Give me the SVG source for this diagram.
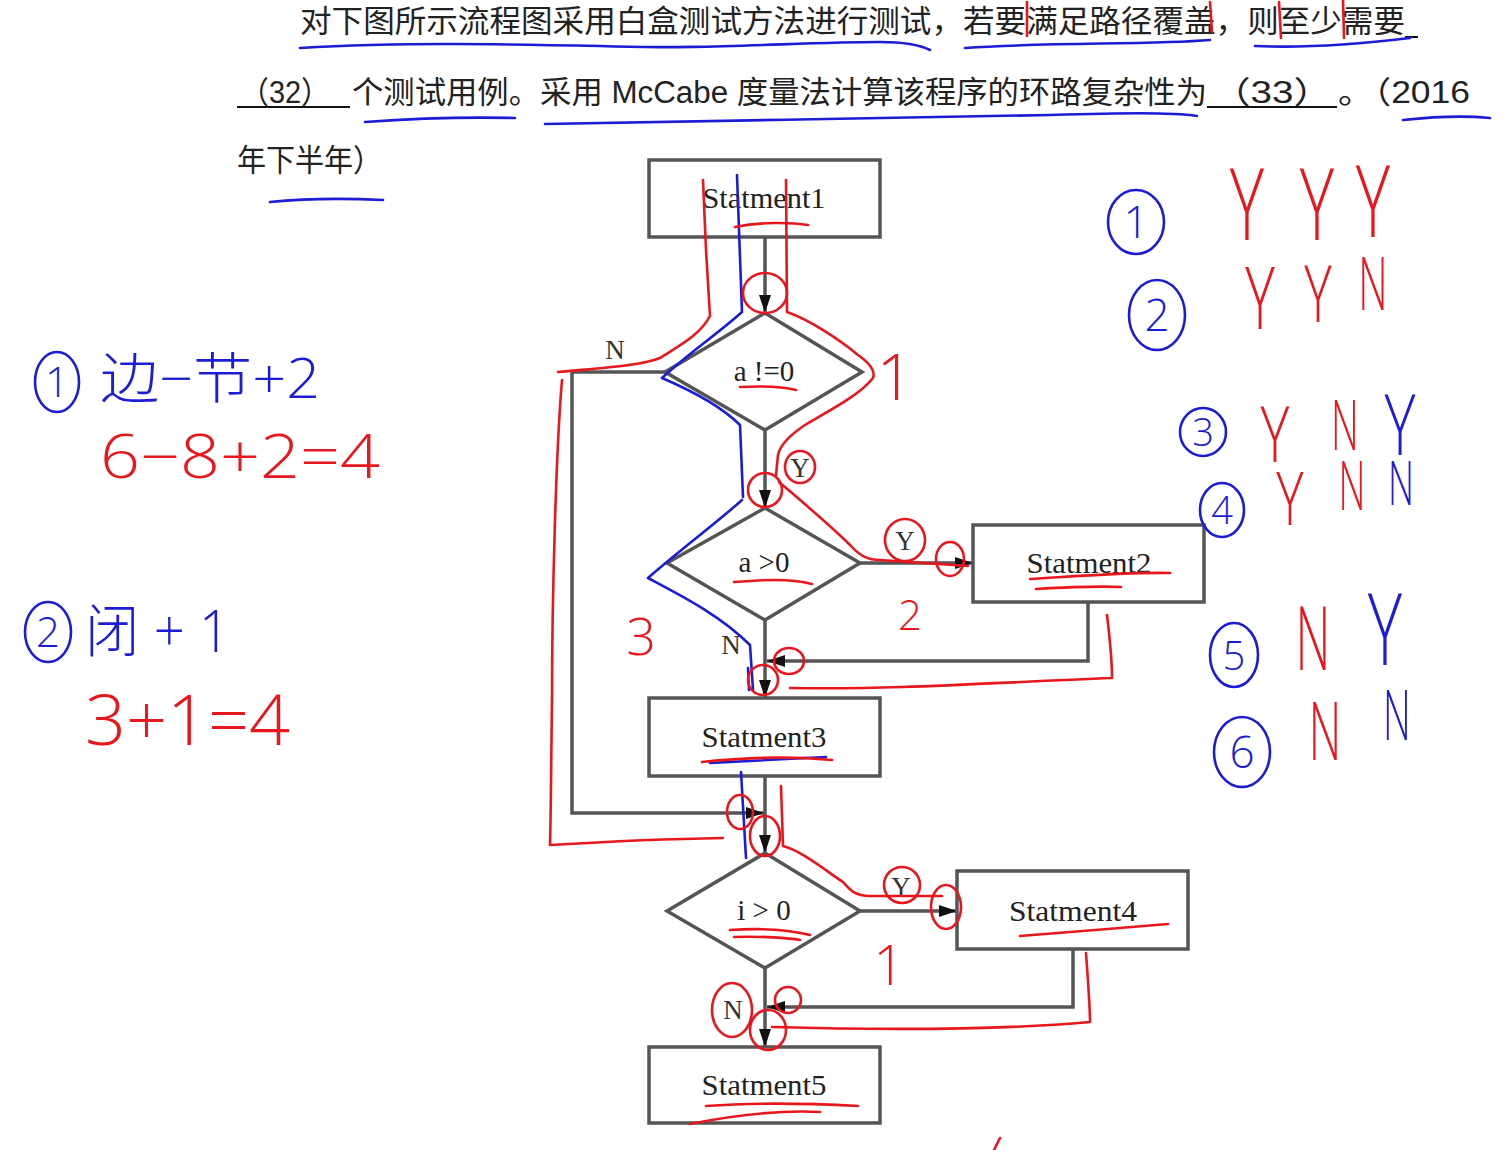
<svg xmlns="http://www.w3.org/2000/svg" width="1503" height="1150" viewBox="0 0 1503 1150">
<defs>
<marker id="ah" markerUnits="userSpaceOnUse" viewBox="0 0 18 12" refX="18" refY="6" markerWidth="18" markerHeight="12" orient="auto">
<path d="M0,0 L18,6 L0,12 z" fill="#111"/>
</marker>
<style>
.q{font-family:"Liberation Sans","Noto Sans CJK SC",sans-serif;font-size:31px;fill:#222}
.box{fill:none;stroke:#555;stroke-width:3.5}
.dia{fill:none;stroke:#555;stroke-width:3.5;stroke-linejoin:miter}
.st{font-family:"Liberation Serif","Times New Roman",serif;font-size:29px;fill:#222;text-anchor:middle}
.lb{font-family:"Liberation Serif","Times New Roman",serif;font-size:27px;fill:#333;text-anchor:middle}
.cn{fill:none;stroke:#555;stroke-width:3.5;marker-end:url(#ah)}
.ul{stroke:#111;stroke-width:2}
.r{fill:none;stroke:#e8161d;stroke-width:2.6;stroke-linecap:round;stroke-linejoin:round}
.b{fill:none;stroke:#1c1cd6;stroke-width:2.6;stroke-linecap:round;stroke-linejoin:round}
.hr{font-family:"Open Sans","Noto Sans","Noto Sans CJK SC",sans-serif;font-weight:300;fill:#e8161d;text-anchor:middle}
.hb{font-family:"Open Sans","Noto Sans","Noto Sans CJK SC",sans-serif;font-weight:300;fill:#1c1cd6;text-anchor:middle}
.hrl{font-family:"Open Sans","Noto Sans","Noto Sans CJK SC",sans-serif;font-weight:300;fill:#e8161d}
.hbl{font-family:"Open Sans","Noto Sans","Noto Sans CJK SC",sans-serif;font-weight:300;fill:#1c1cd6}
</style>
</defs>
<rect width="1503" height="1150" fill="#ffffff"/>

<g id="question">
<text class="q" x="300" y="32" textLength="1105" lengthAdjust="spacingAndGlyphs">对下图所示流程图采用白盒测试方法进行测试，若要满足路径覆盖，则至少需要</text>
<line class="ul" x1="1405" y1="37" x2="1418" y2="37"/>
<text class="q" x="240" y="103" textLength="90" lengthAdjust="spacingAndGlyphs">（32）</text>
<line class="ul" x1="237" y1="107" x2="350" y2="107"/>
<text class="q" x="352" y="103" textLength="855" lengthAdjust="spacingAndGlyphs">个测试用例。采用 McCabe 度量法计算该程序的环路复杂性为</text>
<text class="q" x="1212" y="103" textLength="120" lengthAdjust="spacingAndGlyphs">（33）</text>
<line class="ul" x1="1207" y1="107" x2="1337" y2="107"/>
<text class="q" x="1338" y="103" textLength="132" lengthAdjust="spacingAndGlyphs">。（2016</text>
<text class="q" x="237" y="171" textLength="145" lengthAdjust="spacingAndGlyphs">年下半年）</text>
</g>

<g id="connectors">
<path class="cn" d="M765,237 V313"/>
<path class="cn" d="M765,430 V508"/>
<path class="cn" d="M665,372 H572 V813 H764"/>
<path class="cn" d="M860,563 H973"/>
<path class="cn" d="M765,620 V698"/>
<path class="cn" d="M1088,602 V661 H767"/>
<path class="cn" d="M765,776 V853"/>
<path class="cn" d="M860,911 H957"/>
<path class="cn" d="M765,968 V1047"/>
<path class="cn" d="M1073,949 V1007 H767"/>
<text class="lb" x="615" y="359">N</text>
<text class="lb" x="800" y="477">Y</text>
<text class="lb" x="905" y="550">Y</text>
<text class="lb" x="731" y="654">N</text>
<text class="lb" x="901" y="896">Y</text>
<text class="lb" x="733" y="1019">N</text>
</g>

<g id="s1"><rect class="box" x="649" y="160" width="231" height="77"/><text class="st" x="764" y="208" textLength="123" lengthAdjust="spacingAndGlyphs">Statment1</text></g>
<g id="d1"><polygon class="dia" points="765,313 862,372 765,430 665,372"/><text class="st" x="764" y="381" font-size="27">a !=0</text></g>
<g id="d2"><polygon class="dia" points="765,508 860,563 765,620 667,563"/><text class="st" x="764" y="572" font-size="27">a &gt;0</text></g>
<g id="s2"><rect class="box" x="973" y="525" width="231" height="77"/><text class="st" x="1089" y="573" textLength="125" lengthAdjust="spacingAndGlyphs">Statment2</text></g>
<g id="s3"><rect class="box" x="649" y="698" width="231" height="78"/><text class="st" x="764" y="747" textLength="125" lengthAdjust="spacingAndGlyphs">Statment3</text></g>
<g id="d3"><polygon class="dia" points="765,853 860,911 765,968 667,911"/><text class="st" x="764" y="920" font-size="27">i &gt; 0</text></g>
<g id="s4"><rect class="box" x="957" y="871" width="231" height="78"/><text class="st" x="1073" y="921" textLength="128" lengthAdjust="spacingAndGlyphs">Statment4</text></g>
<g id="s5"><rect class="box" x="649" y="1047" width="231" height="76"/><text class="st" x="764" y="1095" textLength="125" lengthAdjust="spacingAndGlyphs">Statment5</text></g>

<g id="annotations-blue">
<path class="b" d="M300,48 C400,42 500,44 600,46 C700,50 800,42 880,42 C900,42 920,45 930,50"/>
<path class="b" d="M965,48 C1050,42 1150,45 1210,40"/>
<path class="b" d="M1255,46 C1300,48 1360,44 1410,38"/>
<path class="b" d="M365,122 C420,118 470,117 515,118"/>
<path class="b" d="M545,124 C700,121 900,118 1050,115 C1120,113 1170,112 1197,116"/>
<path class="b" d="M1403,120 C1440,116 1470,116 1490,118"/>
<path class="b" d="M270,202 C300,199 340,198 383,200"/>
<path class="b" d="M737,175 L742,312 C720,332 690,352 662,378 C690,390 720,405 740,425 L743,497"/>
<path class="b" d="M742,500 C720,520 680,550 648,578 C680,595 720,615 750,645 L753,690"/>
<path class="b" d="M748,668 L749,690"/>
<path class="b" d="M710,763 C750,761 790,759 826,757"/>
<path class="b" d="M741,772 L746,858"/>
<ellipse class="b" cx="1136" cy="222" rx="28" ry="32"/><text class="hb" x="1136" y="238" font-size="44">1</text>
<ellipse class="b" cx="1157" cy="315" rx="28" ry="35"/><text class="hb" x="1157" y="331" font-size="44">2</text>
<ellipse class="b" cx="1203" cy="432" rx="23" ry="24"/><text class="hb" x="1203" y="446" font-size="38">3</text>
<ellipse class="b" cx="1222" cy="510" rx="22" ry="27"/><text class="hb" x="1222" y="524" font-size="38">4</text>
<ellipse class="b" cx="1234" cy="655" rx="24" ry="32"/><text class="hb" x="1234" y="670" font-size="40">5</text>
<ellipse class="b" cx="1242" cy="752" rx="28" ry="35"/><text class="hb" x="1242" y="768" font-size="44">6</text>
<ellipse class="b" cx="57" cy="382" rx="22" ry="30"/><text class="hb" x="57" y="397" font-size="42">1</text>
<ellipse class="b" cx="48" cy="632" rx="23" ry="30"/><text class="hb" x="48" y="647" font-size="42">2</text>
<text class="hbl" x="100" y="398" font-size="55" textLength="220" lengthAdjust="spacingAndGlyphs">边−节+2</text>
<text class="hbl" x="85" y="652" font-size="58" textLength="145" lengthAdjust="spacingAndGlyphs">闭 + 1</text>
<text class="hb" transform="translate(1400,455) scale(0.7,1)" font-size="84">Y</text>
<text class="hb" transform="translate(1401,505) scale(0.6,1)" font-size="60">N</text>
<text class="hb" transform="translate(1385,665) scale(0.65,1)" font-size="100">Y</text>
<text class="hb" transform="translate(1397,740) scale(0.55,1)" font-size="70">N</text>
</g>

<g id="annotations-red">
<path class="r" d="M1027,2 L1027,36"/>
<path class="r" d="M1210,2 L1212,32"/>
<path class="r" d="M1279,2 L1281,38"/>
<path class="r" d="M1343,0 L1344,38"/>
<path class="r" d="M703,180 L706,250 L710,316 C700,335 680,345 660,358 C640,366 600,368 558,372"/>
<path class="r" d="M562,380 C556,450 552,600 552,700 C551,770 551,810 550,845 C600,842 660,839 723,838"/>
<path class="r" d="M786,180 L787,312 C810,320 840,340 858,355 C868,362 876,370 873,378 C860,395 830,410 805,425 C790,435 780,445 778,455 L776,475"/>
<path class="r" d="M779,482 C800,500 830,525 850,545 C860,556 868,560 880,560 L968,566"/>
<path class="r" d="M1107,615 C1110,640 1112,665 1112,678 C1000,682 900,690 790,688"/>
<path class="r" d="M781,786 L783,846 C800,850 825,870 843,882 C850,890 855,896 870,896 L942,896"/>
<path class="r" d="M1086,953 C1088,980 1090,1010 1090,1022 C1000,1030 880,1030 772,1027"/>
<path class="r" d="M735,227 C760,222 790,222 808,225"/>
<path class="r" d="M740,387 C760,386 780,386 796,390"/>
<path class="r" d="M734,582 C760,580 790,578 812,584"/>
<path class="r" d="M1030,579 C1080,576 1130,572 1170,573"/>
<path class="r" d="M1036,589 C1070,587 1100,586 1121,587"/>
<path class="r" d="M702,762 C740,758 790,756 832,760"/>
<path class="r" d="M730,930 C760,928 790,930 810,935"/>
<path class="r" d="M734,937 C760,936 790,938 800,940"/>
<path class="r" d="M1020,936 C1060,933 1120,928 1168,924"/>
<path class="r" d="M706,1106 C760,1102 820,1104 858,1106"/>
<path class="r" d="M690,1124 C730,1116 780,1110 820,1112"/>
<path class="r" d="M1000,1138 L994,1150"/>
<ellipse class="r" cx="765" cy="293" rx="22" ry="20"/>
<ellipse class="r" cx="800" cy="467" rx="15" ry="16"/>
<ellipse class="r" cx="765" cy="490" rx="17" ry="17"/>
<ellipse class="r" cx="905" cy="540" rx="20" ry="21"/>
<ellipse class="r" cx="950" cy="559" rx="14" ry="17"/>
<ellipse class="r" cx="789" cy="661" rx="15" ry="13"/>
<ellipse class="r" cx="763" cy="680" rx="15" ry="15"/>
<ellipse class="r" cx="740" cy="812" rx="13" ry="17"/>
<ellipse class="r" cx="765" cy="836" rx="15" ry="20"/>
<ellipse class="r" cx="902" cy="885" rx="18" ry="18"/>
<ellipse class="r" cx="946" cy="907" rx="15" ry="22"/>
<ellipse class="r" cx="732" cy="1010" rx="20" ry="27"/>
<ellipse class="r" cx="788" cy="1000" rx="13" ry="13"/>
<ellipse class="r" cx="768" cy="1030" rx="18" ry="20"/>
<text class="hr" x="895" y="400" font-size="65">1</text>
<text class="hr" x="910" y="630" font-size="42">2</text>
<text class="hr" x="641" y="655" font-size="52">3</text>
<text class="hr" x="889" y="985" font-size="55">1</text>
<text class="hrl" x="100" y="478" font-size="60" textLength="280" lengthAdjust="spacingAndGlyphs">6−8+2=4</text>
<text class="hrl" x="85" y="745" font-size="70" textLength="205" lengthAdjust="spacingAndGlyphs">3+1=4</text>
<text class="hr" transform="translate(1247,240) scale(0.65,1)" font-size="100">Y</text>
<text class="hr" transform="translate(1317,240) scale(0.65,1)" font-size="100">Y</text>
<text class="hr" transform="translate(1373,237) scale(0.65,1)" font-size="100">Y</text>
<text class="hr" transform="translate(1260,329) scale(0.65,1)" font-size="86">Y</text>
<text class="hr" transform="translate(1318,322) scale(0.65,1)" font-size="80">Y</text>
<text class="hr" transform="translate(1373,310) scale(0.55,1)" font-size="74">N</text>
<text class="hr" transform="translate(1275,462) scale(0.7,1)" font-size="78">Y</text>
<text class="hr" transform="translate(1345,450) scale(0.55,1)" font-size="70">N</text>
<text class="hr" transform="translate(1290,525) scale(0.7,1)" font-size="74">Y</text>
<text class="hr" transform="translate(1352,510) scale(0.55,1)" font-size="68">N</text>
<text class="hr" transform="translate(1313,670) scale(0.55,1)" font-size="88">N</text>
<text class="hr" transform="translate(1325,760) scale(0.55,1)" font-size="82">N</text>
</g>
</svg>
